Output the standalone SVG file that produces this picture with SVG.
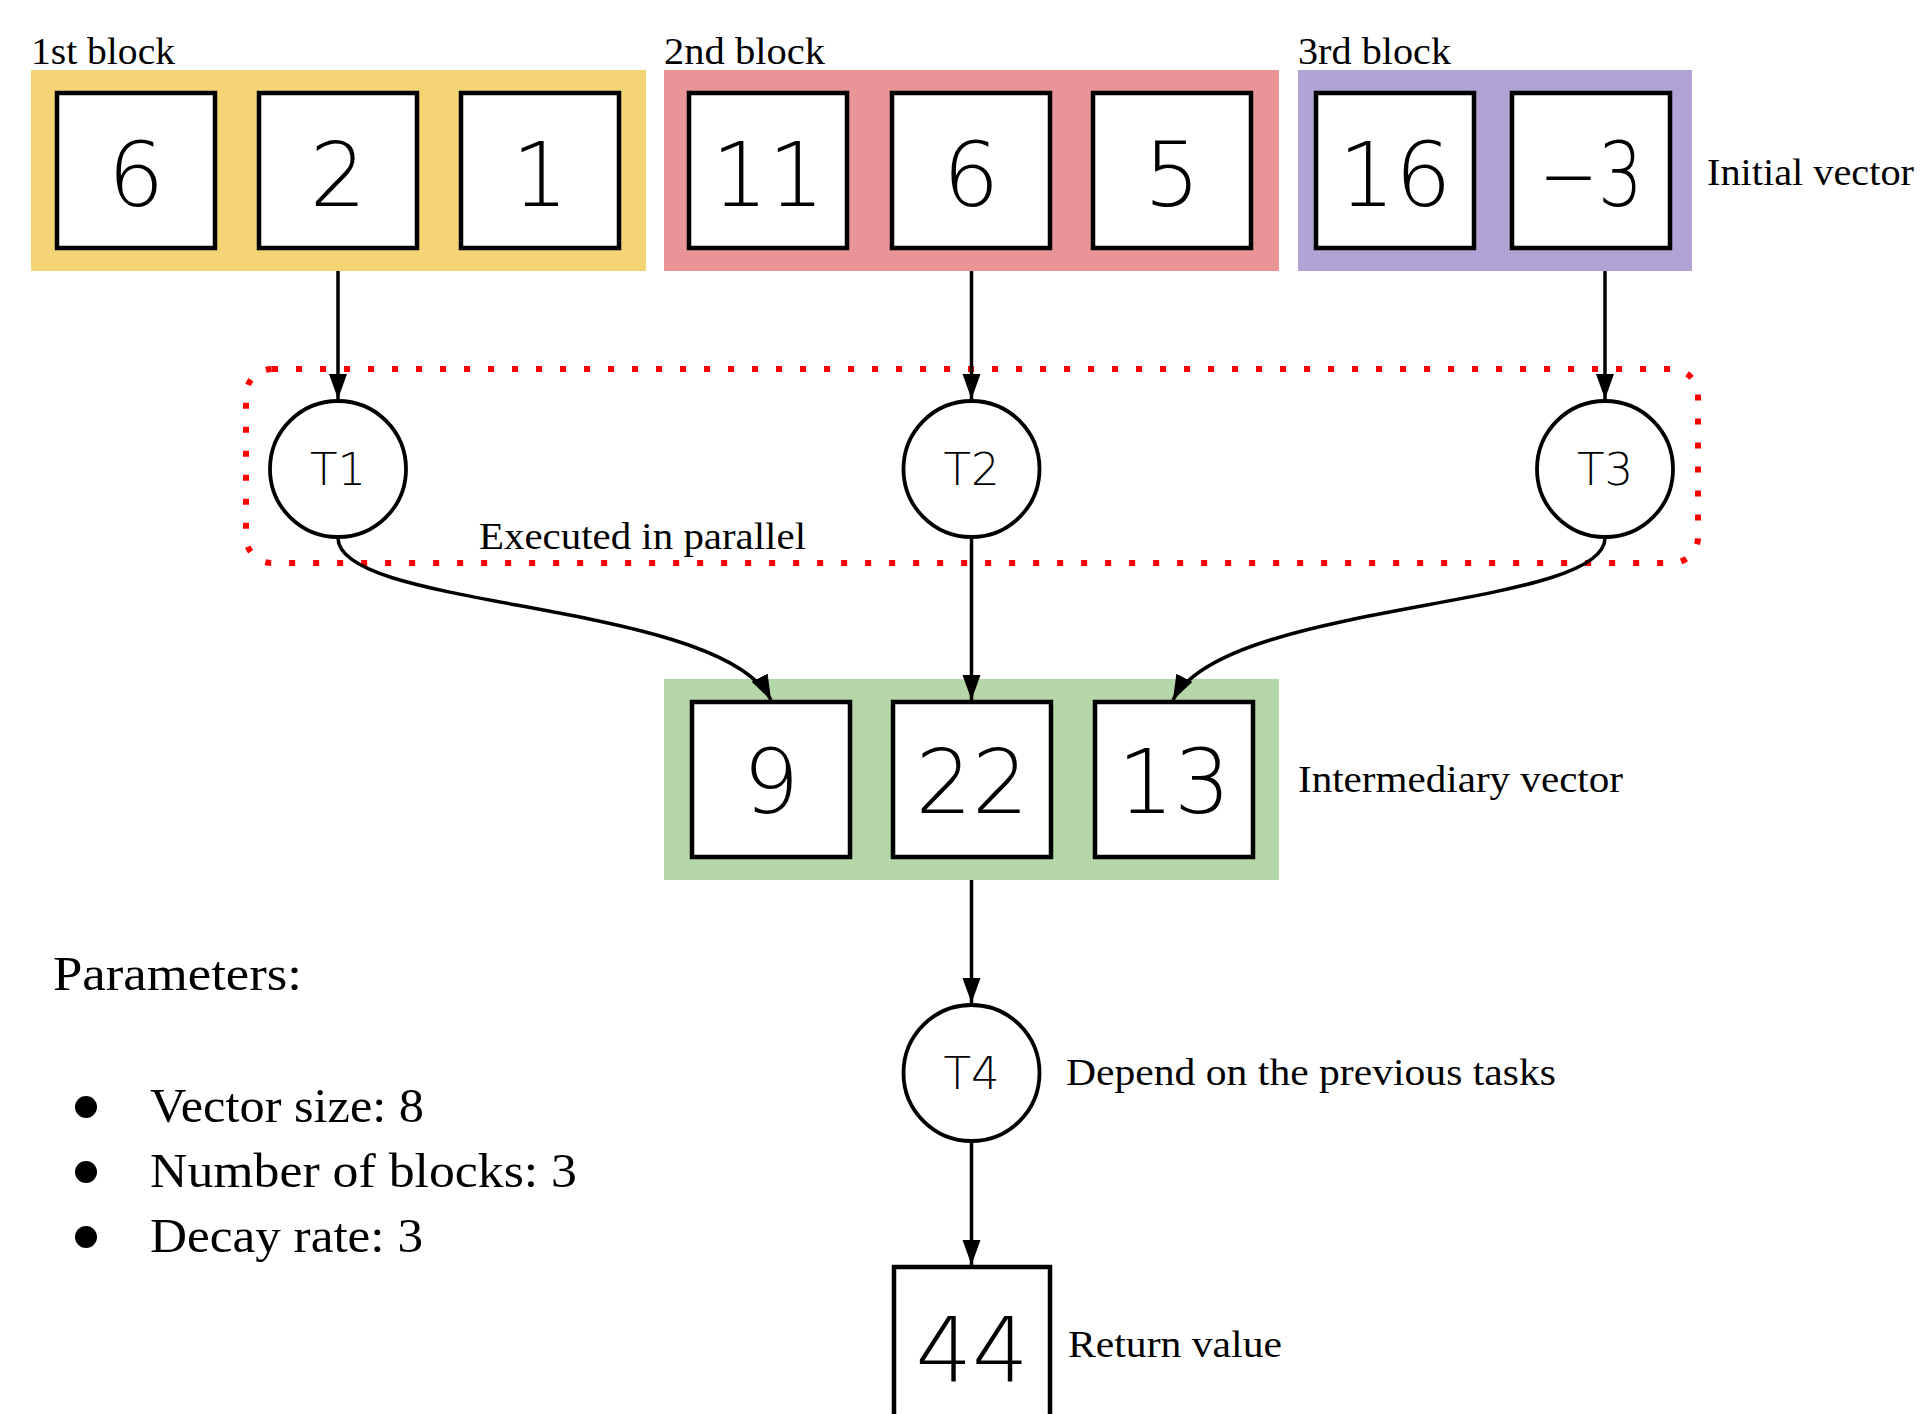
<svg xmlns="http://www.w3.org/2000/svg" width="1925" height="1414" viewBox="0 0 1925 1414">
<style>
.lbl{font-family:"Liberation Serif","Times New Roman",serif;font-size:37.5px;fill:#000}
.big{font-family:"Liberation Serif","Times New Roman",serif;font-size:48px;fill:#000}
.cell{fill:#fff;stroke:#000;stroke-width:4.5}
.num{font-family:"DejaVu Sans",sans-serif;font-weight:200;font-size:89px;fill:#000;text-anchor:middle}
.task{fill:#fff;stroke:#000;stroke-width:3.8}
.tl{font-family:"DejaVu Sans",sans-serif;font-weight:200;font-size:45px;fill:#000;text-anchor:middle}
.edge{fill:none;stroke:#000;stroke-width:3.5;marker-end:url(#arr)}
</style>
<defs>
<marker id="arr" markerUnits="userSpaceOnUse" markerWidth="27" markerHeight="19" refX="25" refY="9" orient="auto">
<path d="M0,0 L25,9 L0,18 z" fill="#000"/>
</marker>
</defs>
<rect width="1925" height="1414" fill="#fff"/>

<g id="parallel-region">
<rect x="246" y="369" width="1452" height="194" rx="26" fill="none" stroke="#ff0000" stroke-width="6" stroke-dasharray="6 18"/>
<text class="lbl" x="479" y="549" textLength="327" lengthAdjust="spacingAndGlyphs">Executed in parallel</text>
</g>

<g id="block1">
<rect x="31" y="70" width="615" height="201" fill="#F4D474"/>
<text class="lbl" x="31" y="64" textLength="144" lengthAdjust="spacingAndGlyphs">1st block</text>
<rect class="cell" x="57" y="93" width="158" height="155"/>
<text class="num" x="136" y="206">6</text>
<rect class="cell" x="259" y="93" width="158" height="155"/>
<text class="num" x="338" y="206">2</text>
<rect class="cell" x="461" y="93" width="158" height="155"/>
<text class="num" x="540" y="206">1</text>
</g>

<g id="block2">
<rect x="664" y="70" width="615" height="201" fill="#E99597"/>
<text class="lbl" x="664" y="64" textLength="161" lengthAdjust="spacingAndGlyphs">2nd block</text>
<rect class="cell" x="689" y="93" width="158" height="155"/>
<text class="num" x="768" y="206">11</text>
<rect class="cell" x="892" y="93" width="158" height="155"/>
<text class="num" x="971" y="206">6</text>
<rect class="cell" x="1093" y="93" width="158" height="155"/>
<text class="num" x="1172" y="206">5</text>
</g>

<g id="block3">
<rect x="1298" y="70" width="394" height="201" fill="#B1A3D4"/>
<text class="lbl" x="1298" y="64" textLength="153" lengthAdjust="spacingAndGlyphs">3rd block</text>
<rect class="cell" x="1316" y="93" width="158" height="155"/>
<text class="num" x="1395" y="206">16</text>
<rect class="cell" x="1512" y="93" width="158" height="155"/>
<text class="num" x="1591" y="206" textLength="104" lengthAdjust="spacingAndGlyphs">−3</text>
<text class="lbl" x="1707" y="185" textLength="207" lengthAdjust="spacingAndGlyphs">Initial vector</text>
</g>

<g id="T1">
<circle class="task" cx="338" cy="469" r="68"/>
<text class="tl" x="338" y="485">T1</text>
</g>
<g id="T2">
<circle class="task" cx="971.5" cy="469" r="68"/>
<text class="tl" x="971.5" y="485">T2</text>
</g>
<g id="T3">
<circle class="task" cx="1605" cy="469" r="68"/>
<text class="tl" x="1605" y="485">T3</text>
</g>

<g id="intermediary">
<rect x="664" y="679" width="615" height="201" fill="#B5D7A7"/>
<rect class="cell" x="692" y="702" width="158" height="155"/>
<text class="num" x="771" y="813">9</text>
<rect class="cell" x="893" y="702" width="158" height="155"/>
<text class="num" x="972" y="813">22</text>
<rect class="cell" x="1095" y="702" width="158" height="155"/>
<text class="num" x="1174" y="813">13</text>
<text class="lbl" x="1298" y="792" textLength="325" lengthAdjust="spacingAndGlyphs">Intermediary vector</text>
</g>

<g id="T4">
<circle class="task" cx="971.5" cy="1073" r="68"/>
<text class="tl" x="971.5" y="1089">T4</text>
<text class="lbl" x="1066" y="1085" textLength="490" lengthAdjust="spacingAndGlyphs">Depend on the previous tasks</text>
</g>

<g id="result">
<rect class="cell" x="894" y="1267" width="156" height="170"/>
<text class="num" x="972" y="1381">44</text>
<text class="lbl" x="1068" y="1357" textLength="214" lengthAdjust="spacingAndGlyphs">Return value</text>
</g>

<g id="parameters">
<text class="big" x="53" y="990" textLength="249" lengthAdjust="spacingAndGlyphs">Parameters:</text>
<circle cx="86" cy="1107" r="11"/>
<text class="big" x="150" y="1122" textLength="274" lengthAdjust="spacingAndGlyphs">Vector size: 8</text>
<circle cx="86" cy="1172" r="11"/>
<text class="big" x="150" y="1187" textLength="427" lengthAdjust="spacingAndGlyphs">Number of blocks: 3</text>
<circle cx="86" cy="1237" r="11"/>
<text class="big" x="150" y="1252" textLength="273" lengthAdjust="spacingAndGlyphs">Decay rate: 3</text>
</g>

<g id="connectors">
<path class="edge" d="M338,271 L338,399"/>
<path class="edge" d="M971.5,271 L971.5,399"/>
<path class="edge" d="M1605,271 L1605,399"/>
<path class="edge" d="M338,538 C338,610 720,600 771,700"/>
<path class="edge" d="M971.5,538 L971.5,700"/>
<path class="edge" d="M1605,538 C1605,610 1224,600 1173,700"/>
<path class="edge" d="M971.5,880 L971.5,1003"/>
<path class="edge" d="M971.5,1142 L971.5,1265"/>
</g>
</svg>
